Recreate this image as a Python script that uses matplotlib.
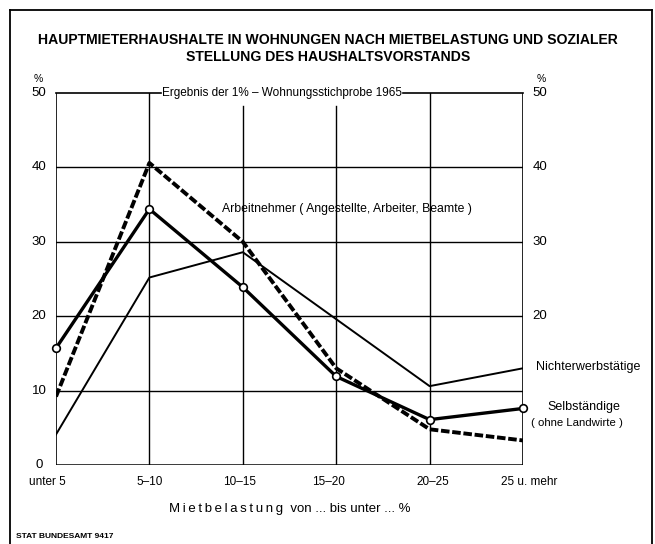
import matplotlib.pyplot as plt
from matplotlib.lines import Line2D

categories = ['unter 5', '5\u201310', '10\u201315', '15\u201320', '20\u201325', '25 u. mehr']
arbeitnehmer = [9.2, 40.6, 30.0, 13.0, 4.8, 3.3]
selbstaendige = [15.7, 34.4, 23.9, 11.9, 6.1, 7.6]
nichterwerbstaetige = [4.1, 25.2, 28.6, 19.6, 10.6, 13.0]
left_ticks = [0, 10, 20, 30, 40, 50]
right_ticks = [20, 30, 40, 50]

FONT = ['Liberation Sans', 'DejaVu Sans']
W, H = 655, 544
X0, X1, Y0, Y1 = 56, 523, 465, 93


def fx(px):
    return px / W


def fy(py):
    return 1 - py / H


fig = plt.figure(figsize=(W / 100, H / 100), dpi=100)
fig.patch.set_facecolor('white')

# outer frame of the sheet
frame = dict(color='black', linewidth=1.3, transform=fig.transFigure)
fig.add_artist(Line2D([fx(10), fx(10)], [0, fy(10)], **frame))
fig.add_artist(Line2D([fx(10), fx(652)], [fy(10), fy(10)], **frame))
fig.add_artist(Line2D([fx(652), fx(652)], [0, fy(10)], **frame))

ax = fig.add_axes([fx(X0), fy(Y0), fx(X1) - fx(X0), fy(Y1) - fy(Y0)])
x = list(range(len(categories)))
ax.set_xlim(0, len(categories) - 1)
ax.set_ylim(0, 50)
for s in ax.spines.values():
    s.set_visible(False)
ax.set_xticks([])
ax.set_yticks([])

# grid / frame
for v in [10, 20, 30, 40]:
    ax.axhline(v, color='black', linewidth=1.0, zorder=1)
ax.axhline(0, color='black', linewidth=1.8, zorder=1)
ax.axvline(0, color='black', linewidth=1.2, zorder=1)
ax.axvline(5, color='black', linewidth=1.2, zorder=1)
ax.axvline(1, color='black', linewidth=1.0, zorder=1)
ax.axvline(4, color='black', linewidth=1.0, zorder=1)
for xi in [2, 3]:
    ax.plot([xi, xi], [0, 48.3], color='black', linewidth=1.0, zorder=1)
ax.plot([0, 1.12], [50, 50], color='black', linewidth=1.2, zorder=1, clip_on=False)
ax.plot([3.72, 5], [50, 50], color='black', linewidth=1.2, zorder=1, clip_on=False)

# series
ax.plot(x, nichterwerbstaetige, color='black', linewidth=1.4, zorder=3)
ax.plot(x, arbeitnehmer, color='black', linewidth=2.8, dashes=(2.2, 0.7), zorder=4)
ax.plot(x, selbstaendige, color='black', linewidth=2.4, marker='o', markersize=5.5,
        markerfacecolor='white', markeredgecolor='black', markeredgewidth=1.2,
        zorder=5, clip_on=False)

# tick labels
step = (Y0 - Y1) / 50
for v in left_ticks:
    fig.text(fx(39), fy(Y0 - v * step), str(v), ha='center', va='center',
             fontsize=9.5, family=FONT)
for v in right_ticks:
    fig.text(fx(540), fy(Y0 - v * step), str(v), ha='center', va='center',
             fontsize=9.5, family=FONT)
fig.text(fx(38), fy(79), '%', ha='center', va='center', fontsize=7.5, family=FONT)
fig.text(fx(541), fy(79), '%', ha='center', va='center', fontsize=7.5, family=FONT)
label_shift = [-9, 0, -3, -8, 3, 6]
for i, c in enumerate(categories):
    xp = X0 + i * (X1 - X0) / 5 + label_shift[i]
    fig.text(fx(xp), fy(482), c, ha='center', va='center', fontsize=8.5, family=FONT)

# titles and labels
fig.text(fx(328), fy(40), 'HAUPTMIETERHAUSHALTE IN WOHNUNGEN NACH MIETBELASTUNG UND SOZIALER',
         ha='center', va='center', fontsize=10.1, fontweight='bold', family=FONT)
fig.text(fx(328), fy(57), 'STELLUNG DES HAUSHALTSVORSTANDS',
         ha='center', va='center', fontsize=10.1, fontweight='bold', family=FONT)
fig.text(fx(282), fy(93), 'Ergebnis der 1% \u2013 Wohnungsstichprobe 1965',
         ha='center', va='center', fontsize=8.5, family=FONT)
fig.text(fx(222), fy(209), 'Arbeitnehmer ( Angestellte, Arbeiter, Beamte )',
         ha='left', va='center', fontsize=8.8, family=FONT)
fig.text(fx(536), fy(367), 'Nichterwerbstätige', ha='left', va='center',
         fontsize=9, family=FONT)
fig.text(fx(584), fy(407), 'Selbständige', ha='center', va='center',
         fontsize=9, family=FONT)
fig.text(fx(577), fy(423), '( ohne Landwirte )', ha='center', va='center',
         fontsize=8.2, family=FONT)
fig.text(fx(290), fy(509), '\u2009'.join('Mietbelastung') + '  von ... bis unter ... %',
         ha='center', va='center', fontsize=9.5, family=FONT)
fig.text(fx(16), fy(537), 'STAT BUNDESAMT 9417', ha='left', va='center',
         fontsize=6, fontweight='bold', family=FONT)

fig.savefig('out.png', dpi=100, facecolor='white')
